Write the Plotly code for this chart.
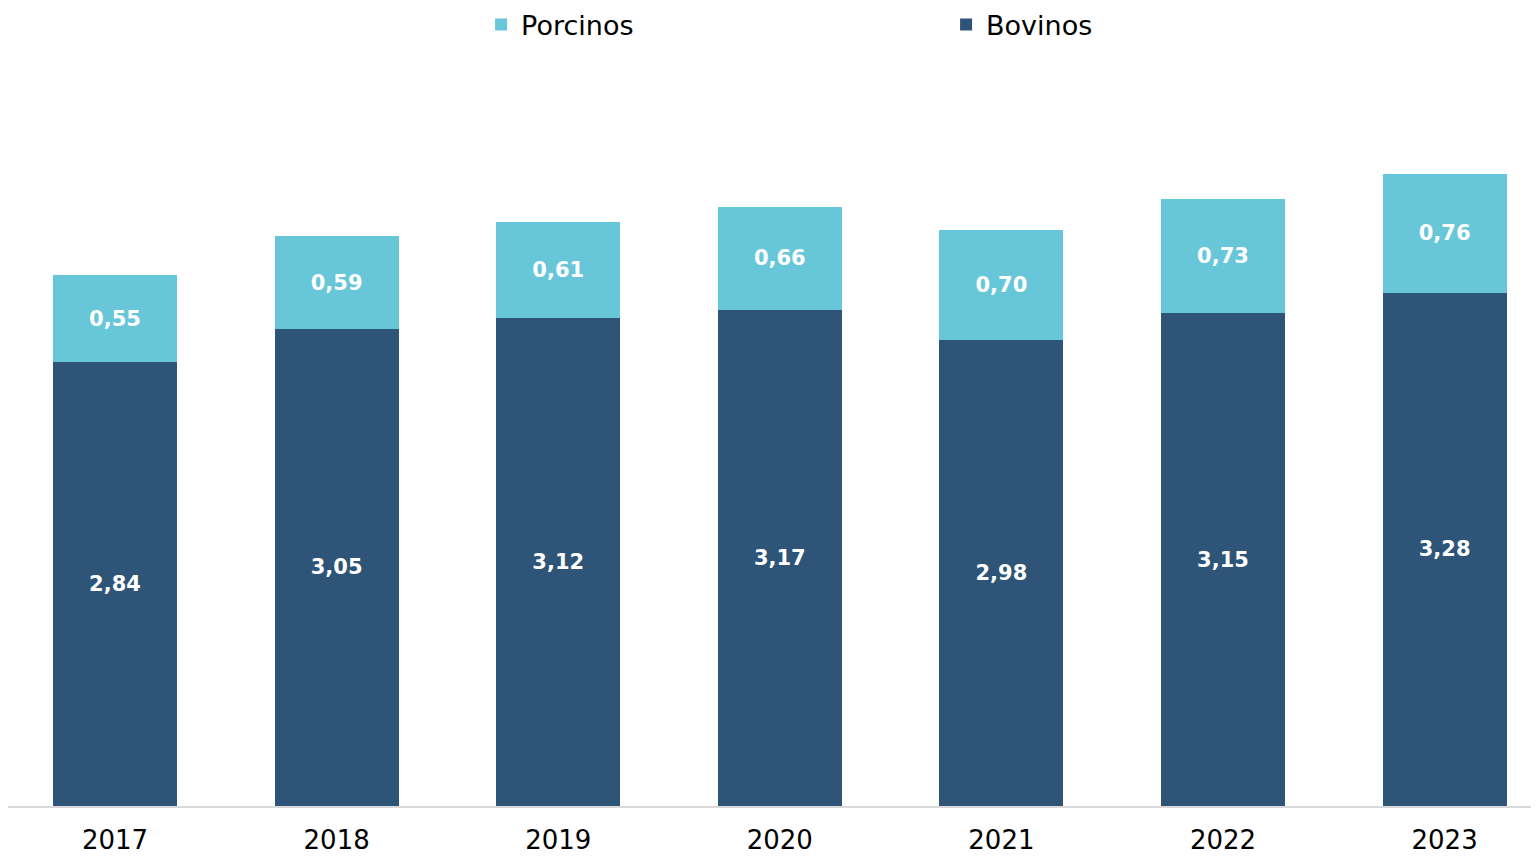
import plotly.graph_objects as go

years = ["2017", "2018", "2019", "2020", "2021", "2022", "2023"]
bovinos = [2.84, 3.05, 3.12, 3.17, 2.98, 3.15, 3.28]
porcinos = [0.55, 0.59, 0.61, 0.66, 0.70, 0.73, 0.76]

dark = "#2E5577"
light = "#67C7D9"
font = "DejaVu Sans"

fig = go.Figure()

fig.add_trace(go.Bar(
    x=years, y=bovinos, name="Bovinos",
    marker=dict(color=dark, line=dict(width=0)),
    texttemplate="<b>%{y:.2f}</b>", textposition="inside",
    insidetextanchor="middle",
    textfont=dict(family=font, size=21, color="white"),
))
fig.add_trace(go.Bar(
    x=years, y=porcinos, name="Porcinos",
    marker=dict(color=light, line=dict(width=0)),
    texttemplate="<b>%{y:.2f}</b>", textposition="inside",
    insidetextanchor="middle",
    textfont=dict(family=font, size=21, color="white"),
))

# page body has an 8px margin, so the figure is a bit smaller than the window
# legend sits inside the plot area so it doesn't push the margins
fig.update_layout(
    width=1531, height=848,
    barmode="stack",
    bargap=0.44,
    separators=",.",
    paper_bgcolor="white",
    plot_bgcolor="white",
    font=dict(family=font, size=26, color="black"),
    margin=dict(l=0, r=0, t=0, b=50, autoexpand=False),
    showlegend=True,
    legend=dict(
        orientation="h", traceorder="reversed",
        x=0.309, xanchor="left", y=0.9787, yanchor="middle",
        bgcolor="rgba(0,0,0,0)",
        font=dict(family=font, size=27, color="black"),
        entrywidth=420, entrywidthmode="pixels",
        itemwidth=30,
    ),
    uniformtext=dict(mode="show", minsize=10),
)

fig.update_xaxes(
    type="category",
    range=[-0.483, 6.426],
    showline=True, linecolor="#D9D9D9", linewidth=2,
    ticks="", showgrid=False,
    automargin=False,
    ticklabelstandoff=10,
    tickfont=dict(family=font, size=26, color="black"),
)
fig.update_yaxes(
    range=[0, 5.099],
    visible=False, showgrid=False, zeroline=False,
    automargin=False,
)

fig.write_html("out.html")
